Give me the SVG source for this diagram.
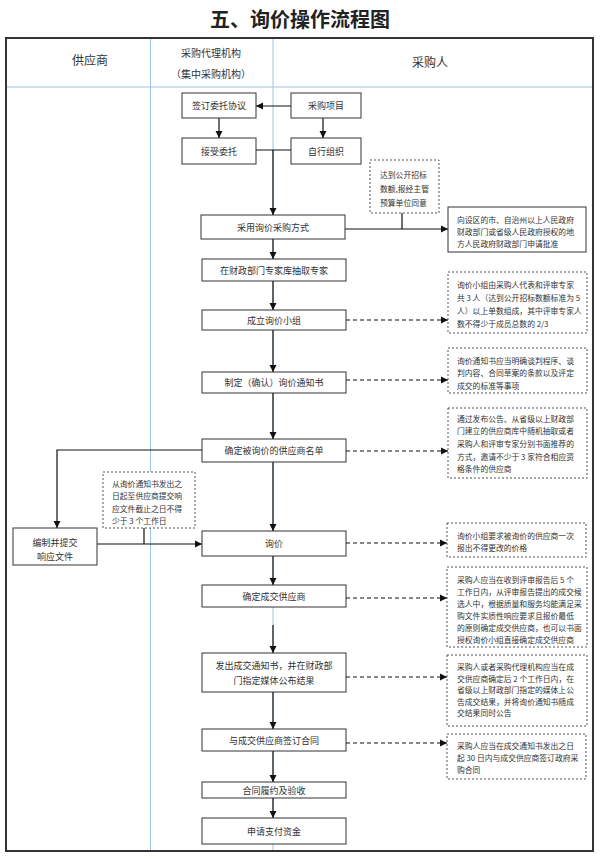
<svg xmlns="http://www.w3.org/2000/svg" width="600" height="859" viewBox="0 0 600 859">
<defs>
<style>
text{font-family:"Noto Sans CJK SC","Noto Sans",sans-serif;fill:#333;dominant-baseline:central}
.t{font-size:9px;text-anchor:middle}
.n{font-size:7.8px;text-anchor:start}
.h{font-size:12px;text-anchor:middle}
.h2{font-size:10px;text-anchor:middle}
.box{fill:#fff;stroke:#333;stroke-width:1}
.dbox{fill:#fff;stroke:#555;stroke-width:1;stroke-dasharray:2,2}
.ln{fill:none;stroke:#111;stroke-width:1.2}
.dl{fill:none;stroke:#111;stroke-width:1.2;stroke-dasharray:4,3}
.blue{fill:none;stroke:#9cc4e8;stroke-width:1}
</style>
<marker id="ar" markerUnits="userSpaceOnUse" markerWidth="8" markerHeight="8" refX="7" refY="4" orient="auto">
<path d="M0,0.5 L7,4 L0,7.5 z" fill="#111"/>
</marker>
</defs>
<rect width="600" height="859" fill="#fff"/>
<text x="300" y="18" style="font-size:20px;font-weight:bold;text-anchor:middle;fill:#222">五、询价操作流程图</text>

<g id="frame">
<line class="blue" x1="6" y1="87" x2="593" y2="87"/>
<line class="blue" x1="150.5" y1="38" x2="150.5" y2="851"/>
<line class="blue" x1="273" y1="38" x2="273" y2="851"/>
<rect x="6" y="38" width="587" height="813" fill="none" stroke="#333" stroke-width="2"/>
<text class="h" x="90" y="59">供应商</text>
<text class="h2" x="211" y="52">采购代理机构</text>
<text class="h2" x="211" y="73">（集中采购机构）</text>
<text class="h" x="430" y="61">采购人</text>
</g>

<g id="connectors">
<line class="ln" x1="291" y1="106" x2="256" y2="106" marker-end="url(#ar)"/>
<line class="ln" x1="219" y1="118" x2="219" y2="138" marker-end="url(#ar)"/>
<line class="ln" x1="323" y1="118" x2="323" y2="138" marker-end="url(#ar)"/>
<line class="ln" x1="256" y1="150" x2="291" y2="150"/>
<line class="ln" x1="273" y1="150" x2="273" y2="215" marker-end="url(#ar)"/>
<line class="ln" x1="345" y1="229" x2="448" y2="229" marker-end="url(#ar)"/>
<line class="ln" x1="402" y1="213" x2="402" y2="229"/>
<line class="ln" x1="273" y1="239" x2="273" y2="259" marker-end="url(#ar)"/>
<line class="ln" x1="273" y1="281" x2="273" y2="310" marker-end="url(#ar)"/>
<line class="dl" x1="346" y1="320" x2="448" y2="320" marker-end="url(#ar)"/>
<line class="ln" x1="273" y1="330" x2="273" y2="372" marker-end="url(#ar)"/>
<line class="dl" x1="346" y1="380" x2="448" y2="380" marker-end="url(#ar)"/>
<line class="ln" x1="273" y1="393" x2="273" y2="439" marker-end="url(#ar)"/>
<line class="dl" x1="346" y1="451" x2="448" y2="451" marker-end="url(#ar)"/>
<polyline class="ln" points="202,450 57,450 57,528" marker-end="url(#ar)"/>
<line class="ln" x1="273" y1="462" x2="273" y2="531" marker-end="url(#ar)"/>
<line class="ln" x1="97" y1="544" x2="202" y2="544" marker-end="url(#ar)"/>
<line class="ln" x1="144" y1="528" x2="144" y2="544"/>
<line class="dl" x1="346" y1="543" x2="447" y2="543" marker-end="url(#ar)"/>
<line class="ln" x1="273" y1="556" x2="273" y2="585" marker-end="url(#ar)"/>
<line class="dl" x1="346" y1="598" x2="447" y2="598" marker-end="url(#ar)"/>
<line class="ln" x1="273" y1="625" x2="273" y2="653" marker-end="url(#ar)"/>
<line class="dl" x1="346" y1="677" x2="447" y2="677" marker-end="url(#ar)"/>
<line class="ln" x1="273" y1="692" x2="273" y2="729" marker-end="url(#ar)"/>
<line class="dl" x1="346" y1="743" x2="447" y2="743" marker-end="url(#ar)"/>
<line class="ln" x1="273" y1="751" x2="273" y2="782" marker-end="url(#ar)"/>
<line class="ln" x1="273" y1="798" x2="273" y2="818" marker-end="url(#ar)"/>
</g>

<g id="n-qianding"><rect class="box" x="182" y="93" width="74" height="25"/><text class="t" x="219" y="105.5">签订委托协议</text></g>
<g id="n-xiangmu"><rect class="box" x="291" y="93" width="70" height="25"/><text class="t" x="326" y="105.5">采购项目</text></g>
<g id="n-jieshou"><rect class="box" x="182" y="138" width="74" height="26"/><text class="t" x="219" y="151">接受委托</text></g>
<g id="n-zixing"><rect class="box" x="291" y="138" width="70" height="26"/><text class="t" x="326" y="151">自行组织</text></g>
<g id="n-caiyong"><rect class="box" x="201" y="215" width="144" height="24"/><text class="t" x="273" y="227">采用询价采购方式</text></g>
<g id="n-dadao"><rect class="dbox" x="370" y="160" width="69" height="53"/>
<text class="n" x="380" y="174">达到公开招标</text><text class="n" x="380" y="188">数额,报经主管</text><text class="n" x="380" y="202">预算单位同意</text></g>
<g id="n-pizhun"><rect class="box" x="448" y="207" width="138" height="45"/>
<text class="n" x="457" y="219">向设区的市、自治州以上人民政府</text><text class="n" x="457" y="231">财政部门或省级人民政府授权的地</text><text class="n" x="457" y="243">方人民政府财政部门申请批准</text></g>

<g id="n-zhuanjia"><rect class="box" x="202" y="259" width="144" height="22"/><text class="t" x="274" y="270">在财政部门专家库抽取专家</text></g>
<g id="n-xiaozu"><rect class="box" x="202" y="310" width="144" height="20"/><text class="t" x="274" y="320">成立询价小组</text></g>
<g id="n-note1"><rect class="dbox" x="448" y="272" width="139" height="61"/>
<text class="n" x="457" y="284.5">询价小组由采购人代表和评审专家</text><text class="n" x="457" y="297.5">共 3 人（达到公开招标数额标准为 5</text><text class="n" x="457" y="310.5">人）以上单数组成，其中评审专家人</text><text class="n" x="457" y="323.5">数不得少于成员总数的 2/3</text></g>

<g id="n-tongzhi"><rect class="box" x="202" y="372" width="144" height="21"/><text class="t" x="274" y="382.5">制定（确认）询价通知书</text></g>
<g id="n-note2"><rect class="dbox" x="448" y="348" width="139" height="45"/>
<text class="n" x="457" y="360">询价通知书应当明确谈判程序、谈</text><text class="n" x="457" y="372.5">判内容、合同草案的条款以及评定</text><text class="n" x="457" y="385">成交的标准等事项</text></g>

<g id="n-mingdan"><rect class="box" x="202" y="439" width="144" height="23"/><text class="t" x="274" y="450.5">确定被询价的供应商名单</text></g>
<g id="n-note3"><rect class="dbox" x="448" y="408" width="139" height="70"/>
<text class="n" x="457" y="418">通过发布公告、从省级以上财政部</text><text class="n" x="457" y="430.7">门建立的供应商库中随机抽取或者</text><text class="n" x="457" y="443.3">采购人和评审专家分别书面推荐的</text><text class="n" x="457" y="456">方式，邀请不少于 3 家符合相应资</text><text class="n" x="457" y="468.7">格条件的供应商</text></g>

<g id="n-note4"><rect class="dbox" x="103" y="472" width="92" height="56"/>
<text class="n" x="112" y="483">从询价通知书发出之</text><text class="n" x="112" y="495.5">日起至供应商提交响</text><text class="n" x="112" y="508">应文件截止之日不得</text><text class="n" x="112" y="520.5">少于 3 个工作日</text></g>
<g id="n-bianzhi"><rect class="box" x="13" y="528" width="84" height="37"/><text class="t" x="55" y="542">编制并提交</text><text class="t" x="55" y="556">响应文件</text></g>

<g id="n-xunjia"><rect class="box" x="202" y="531" width="144" height="25"/><text class="t" x="274" y="543.5">询价</text></g>
<g id="n-note5"><rect class="dbox" x="447" y="523" width="139" height="34"/>
<text class="n" x="457" y="535">询价小组要求被询价的供应商一次</text><text class="n" x="457" y="547">报出不得更改的价格</text></g>

<g id="n-chengjiao"><rect class="box" x="202" y="585" width="144" height="22"/><text class="t" x="274" y="596">确定成交供应商</text></g>
<g id="n-note6"><rect class="dbox" x="447" y="567" width="140" height="80"/>
<text class="n" x="457" y="579">采购人应当在收到评审报告后 5 个</text><text class="n" x="457" y="591">工作日内，从评审报告提出的成交候</text><text class="n" x="457" y="603">选人中，根据质量和服务均能满足采</text><text class="n" x="457" y="615">购文件实质性响应要求且报价最低</text><text class="n" x="457" y="627">的原则确定成交供应商，也可以书面</text><text class="n" x="457" y="639">授权询价小组直接确定成交供应商</text></g>

<g id="n-fachu"><rect class="box" x="202" y="653" width="144" height="39"/><text class="t" x="274" y="665">发出成交通知书，并在财政部</text><text class="t" x="274" y="680">门指定媒体公布结果</text></g>
<g id="n-note7"><rect class="dbox" x="447" y="655" width="140" height="71"/>
<text class="n" x="457" y="666.5">采购人或者采购代理机构应当在成</text><text class="n" x="457" y="678">交供应商确定后 2 个工作日内，在</text><text class="n" x="457" y="689.5">省级以上财政部门指定的媒体上公</text><text class="n" x="457" y="701">告成交结果，并将询价通知书随成</text><text class="n" x="457" y="712.5">交结果同时公告</text></g>

<g id="n-hetong"><rect class="box" x="202" y="729" width="144" height="22"/><text class="t" x="274" y="740">与成交供应商签订合同</text></g>
<g id="n-note8"><rect class="dbox" x="447" y="734" width="139" height="45"/>
<text class="n" x="457" y="745">采购人应当在成交通知书发出之日</text><text class="n" x="457" y="757">起 30 日内与成交供应商签订政府采</text><text class="n" x="457" y="769">购合同</text></g>

<g id="n-lvyue"><rect class="box" x="202" y="782" width="144" height="16"/><text class="t" x="274" y="790">合同履约及验收</text></g>
<g id="n-zhifu"><rect class="box" x="202" y="818" width="144" height="26"/><text class="t" x="274" y="831">申请支付资金</text></g>
</svg>
